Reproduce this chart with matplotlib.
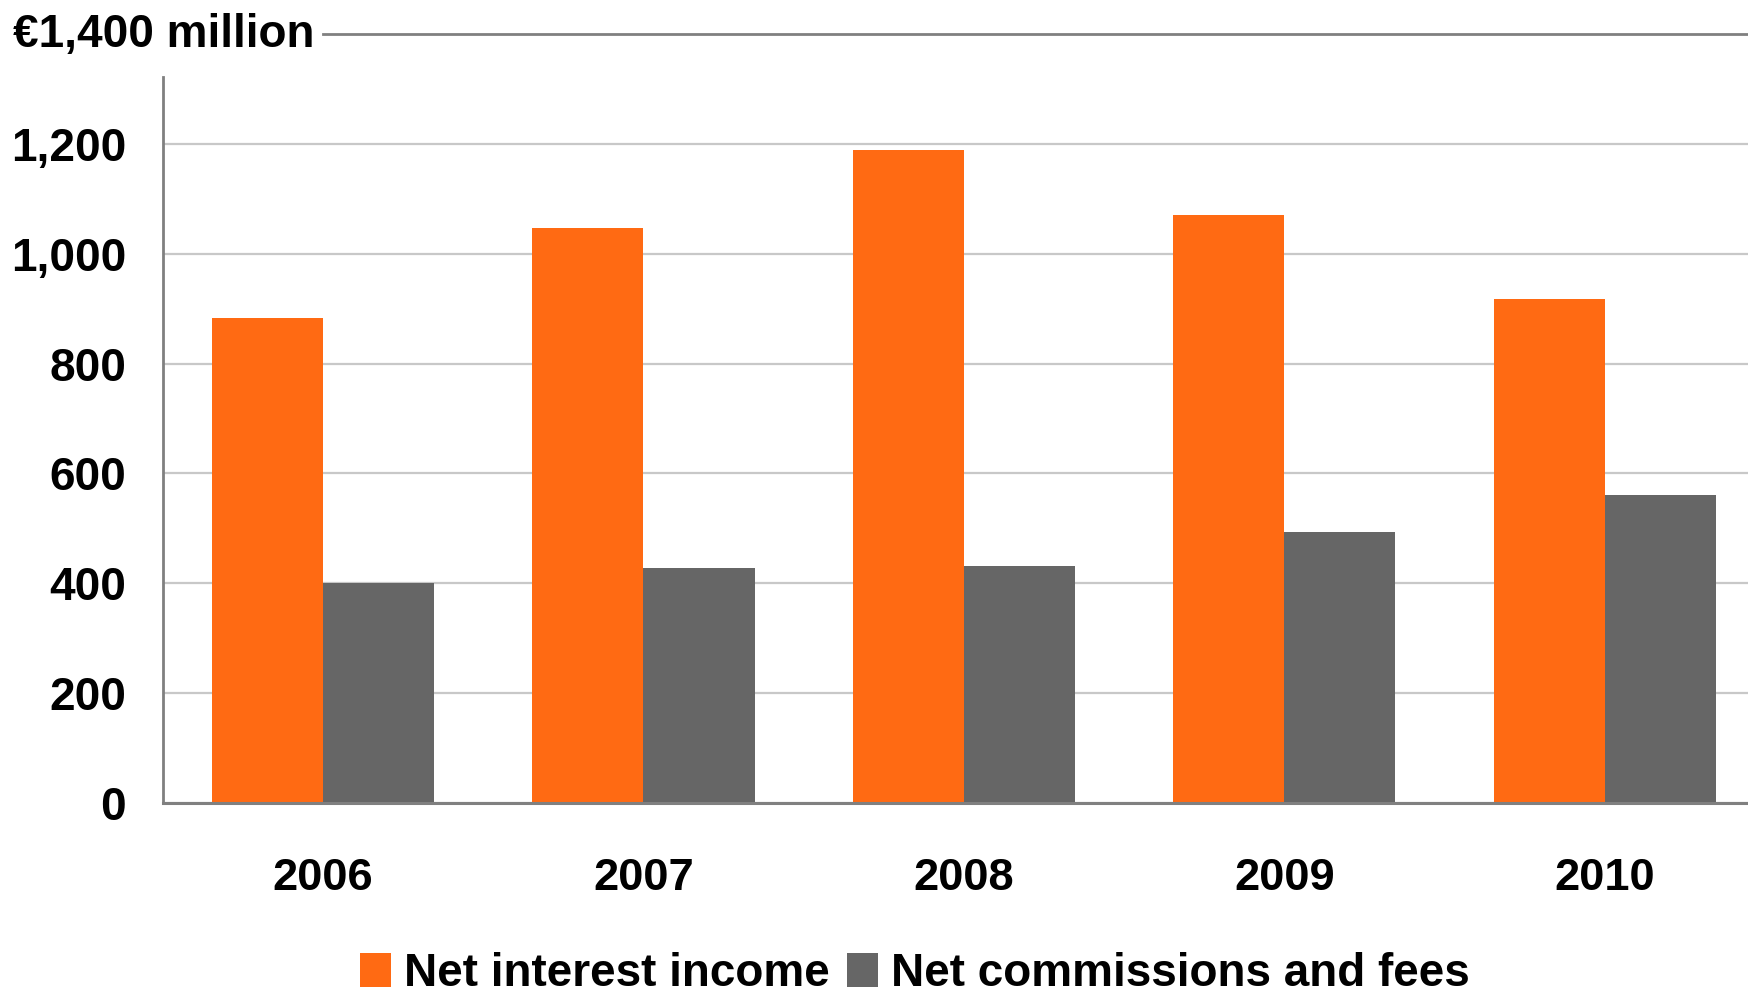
import matplotlib
matplotlib.use("Agg")
import matplotlib.pyplot as plt
import numpy as np
from matplotlib.ticker import FuncFormatter

# Data (EUR million)
years = ["2006", "2007", "2008", "2009", "2010"]
net_interest_income = [883, 1047, 1189, 1071, 918]
net_commissions_fees = [401, 428, 431, 493, 561]
series_labels = ["Net interest income", "Net commissions and fees"]
y_ticks = [0, 200, 400, 600, 800, 1000, 1200]

ORANGE = "#FF6A13"
GREY = "#666666"
AXIS_GREY = "#808080"
GRID_GREY = "#C8C8C8"

plt.rcParams["font.family"] = ["Liberation Sans", "DejaVu Sans"]
plt.rcParams["font.weight"] = "bold"

fig = plt.figure(figsize=(17.48, 9.91), dpi=100)
ax = fig.add_axes([0.0931, 0.1897, 0.9166, 0.776])

x = np.arange(len(years))
w = 0.347
ax.bar(x - w / 2, net_interest_income, width=w, color=ORANGE, label=series_labels[0], zorder=3)
ax.bar(x + w / 2, net_commissions_fees, width=w, color=GREY, label=series_labels[1], zorder=3)

ax.set_xlim(-0.5, len(years) - 0.5)
ax.set_ylim(0, 1400)

ax.set_yticks(y_ticks)
ax.yaxis.set_major_formatter(FuncFormatter(lambda v, p: f"{int(v):,}"))
ax.set_xticks(x)
ax.set_xticklabels(years)
ax.tick_params(axis="y", length=0, pad=26.5, labelsize=33)
ax.tick_params(axis="x", length=0, pad=39.5, labelsize=32.6)
for lab in ax.get_xticklabels() + ax.get_yticklabels():
    lab.set_fontweight("bold")

ax.grid(axis="y", color=GRID_GREY, linewidth=1.6, zorder=0)
ax.set_axisbelow(True)

for side in ("top", "right"):
    ax.spines[side].set_visible(False)
ax.spines["left"].set_color(AXIS_GREY)
ax.spines["left"].set_linewidth(2)
ax.spines["left"].set_bounds(0, 1322)
ax.spines["bottom"].set_color(AXIS_GREY)
ax.spines["bottom"].set_linewidth(2.2)
ax.spines["bottom"].set_zorder(4)

# Unit label with its rule at the top of the scale
ax.axhline(1400, xmin=0.1, xmax=1.0, color=AXIS_GREY, linewidth=2, clip_on=False, zorder=4)
fig.text(13 / 1748, 1 - 47 / 991, "€1,400 million", fontsize=33, fontweight="bold",
         ha="left", va="baseline")

fig.legend(loc="lower left", bbox_to_anchor=(360 / 1748, -5 / 991), ncol=2, frameon=False,
           prop={"size": 33.0, "weight": "bold"}, handlelength=0.68, handleheight=0.75,
           handletextpad=0.28, columnspacing=0.38, borderpad=0, borderaxespad=0)

fig.savefig("out.png", dpi=100)
